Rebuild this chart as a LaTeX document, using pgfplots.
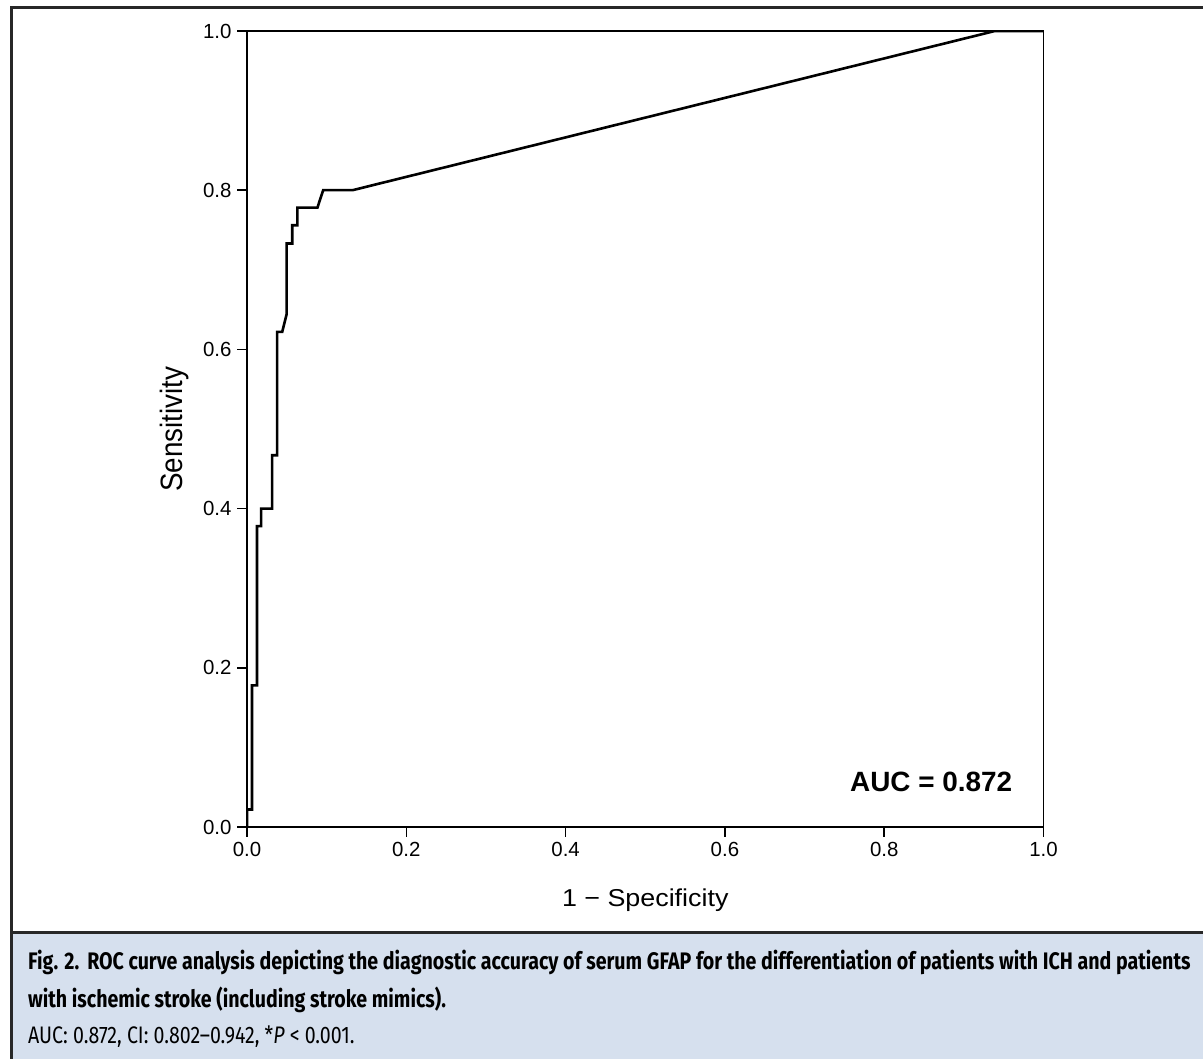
\documentclass[border=0pt]{standalone}
\usepackage{fontspec}
\setmainfont{Liberation Sans}
\newfontfamily\capfont[FakeStretch=0.82]{Fira Sans}
\newfontfamily\ylabfont[FakeStretch=0.9]{Liberation Sans}
\newfontfamily\xlabfont[FakeStretch=1.1]{Liberation Sans}
\usepackage{pgfplots}
\pgfplotsset{compat=1.18}
\definecolor{capfill}{RGB}{214,224,238}
\definecolor{frame}{RGB}{40,40,40}

\begin{document}
\begin{tikzpicture}[x=1bp,y=1bp]
  % page and caption panel (pixel grid of the reference, y measured upwards)
  \useasboundingbox (0,0) rectangle (1203,1059);
  \fill[capfill] (11,0) rectangle (1203,126);
  \draw[frame, line width=3bp] (11,0) -- (11,1051) -- (1203,1051);
  \draw[frame, line width=3bp] (11,126) -- (1203,126);

  \begin{axis}[
      at={(247bp,232bp)}, anchor=south west,
      scale only axis, width=796.5bp, height=796bp,
      xmin=0, xmax=1, ymin=0, ymax=1,
      xtick={0,0.2,...,1.0}, ytick={0,0.2,...,1.0},
      tick pos=left, tick align=outside,
      major tick length=10bp,
      every tick/.style={black, line width=1.6bp},
      axis line style={black, line width=1.6bp},
      xticklabel style={/pgf/number format/fixed, /pgf/number format/fixed zerofill,
        /pgf/number format/precision=1, font=\fontsize{20.5}{20.5}\selectfont, yshift=-2bp},
      yticklabel style={/pgf/number format/fixed, /pgf/number format/fixed zerofill,
        /pgf/number format/precision=1, font=\fontsize{20.5}{20.5}\selectfont, xshift=-2bp},
      /pgf/number format/assume math mode=true,
      xlabel={1 − Specificity},
      ylabel={Sensitivity},
      xlabel style={font=\xlabfont\fontsize{24.5}{24.5}\selectfont,
        at={(axis description cs:0.5,-0.0917)}, anchor=center},
      ylabel style={font=\ylabfont\fontsize{31}{31}\selectfont,
        at={(axis description cs:-0.0904,0.5)}, anchor=center},
    ]
    \addplot[black, line width=2.6bp] coordinates {
      (0,0) (0,0.022) (0.0063,0.022) (0.0063,0.178) (0.0126,0.178)
      (0.0126,0.378) (0.0177,0.378) (0.0177,0.4) (0.0316,0.4) (0.0316,0.467)
      (0.0379,0.467) (0.0379,0.622) (0.0442,0.622) (0.0497,0.644) (0.0497,0.733)
      (0.0568,0.733) (0.0568,0.756) (0.0632,0.756) (0.0632,0.778) (0.0884,0.778)
      (0.0956,0.8) (0.1326,0.8) (0.939,1) (1,1)
    };
    \node[font=\fontsize{28}{28}\selectfont\bfseries] at (axis cs:0.859,0.057) {AUC = 0.872};
  \end{axis}

  % caption text
  \node[anchor=west, inner sep=0pt, font=\capfont\fontsize{24}{24}\selectfont\bfseries]
    at (28,97) {Fig. 2.\hspace{8bp}ROC curve analysis depicting the diagnostic accuracy of serum GFAP for the differentiation of patients with ICH and patients};
  \node[anchor=west, inner sep=0pt, font=\capfont\fontsize{24}{24}\selectfont\bfseries]
    at (28,59) {with ischemic stroke (including stroke mimics).};
  \node[anchor=west, inner sep=0pt, font=\capfont\fontsize{24}{24}\selectfont]
    at (28,22) {AUC: 0.872, CI: 0.802–0.942, *\textit{P} < 0.001.};
\end{tikzpicture}
\end{document}
